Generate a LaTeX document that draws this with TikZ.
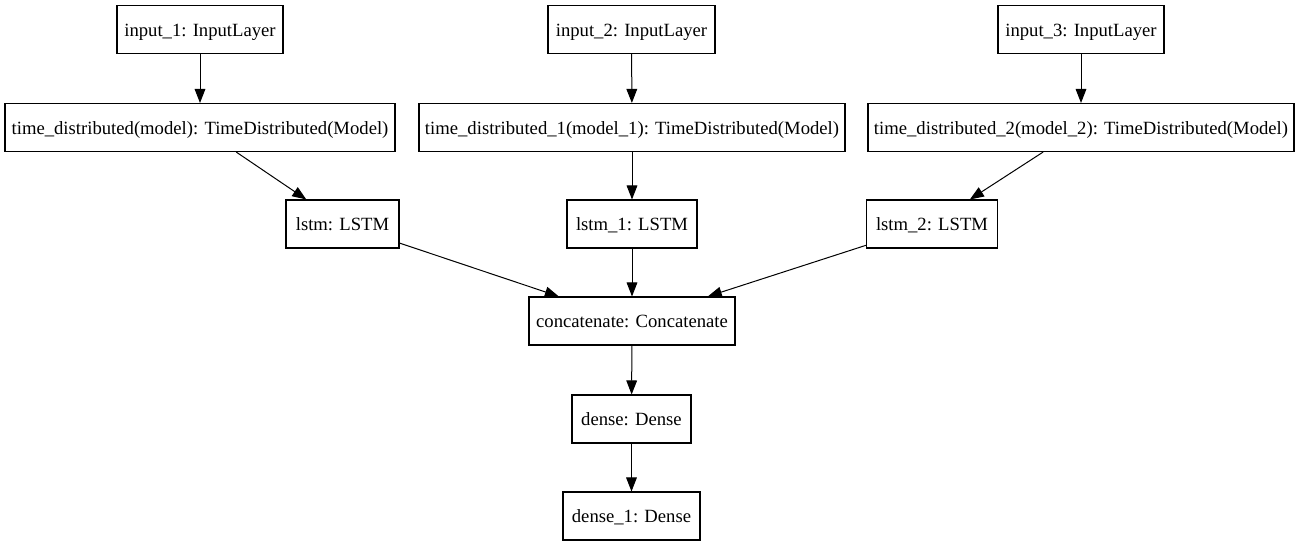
\documentclass[tikz,border=0pt]{standalone}
\usepackage{fontspec}
\setmainfont{Liberation Serif}
\usetikzlibrary{arrows.meta}

\begin{document}
\begin{tikzpicture}[
  x=0.75pt, y=-0.75pt,
  >={Triangle[length=10.5pt, width=8pt]},
  layer/.style={draw, line width=0.8pt, inner sep=1pt,
    text height=11.5pt, text depth=1.5pt,
    minimum height=48*0.75pt, font=\fontsize{14}{16}\selectfont},
  flow/.style={->, line width=0.75pt},
]

% ── Canvas (unit = 1 px) ──────────────────────────────────────────────────────
\useasboundingbox (0, 0) rectangle (1299, 547);

% ── Row heights ───────────────────────────────────────────────────────────────
\def\yin{29.5}     % input layers
\def\ytd{127.5}    % time distributed
\def\ylstm{224}    % lstm
\def\ycat{321}     % concatenate
\def\yden{419}     % dense
\def\ydenb{516}    % dense_1

% ── Branch 1 ──────────────────────────────────────────────────────────────────
\node[layer, minimum width=166*0.75pt] (in1) at (200, \yin) {input\_1: InputLayer};
\node[layer, minimum width=390*0.75pt] (td1) at (200, \ytd)
  {time\_distributed(model): TimeDistributed(Model)};
\node[layer, minimum width=113*0.75pt] (lstm1) at (342.5, \ylstm) {lstm: LSTM};

% ── Branch 2 ──────────────────────────────────────────────────────────────────
\node[layer, minimum width=167*0.75pt] (in2) at (631.5, \yin) {input\_2: InputLayer};
\node[layer, minimum width=426*0.75pt] (td2) at (632, \ytd)
  {time\_distributed\_1(model\_1): TimeDistributed(Model)};
\node[layer, minimum width=130*0.75pt] (lstm2) at (632, \ylstm) {lstm\_1: LSTM};

% ── Branch 3 ──────────────────────────────────────────────────────────────────
\node[layer, minimum width=166*0.75pt] (in3) at (1081, \yin) {input\_3: InputLayer};
\node[layer, minimum width=426*0.75pt] (td3) at (1081, \ytd)
  {time\_distributed\_2(model\_2): TimeDistributed(Model)};
\node[layer, minimum width=131*0.75pt] (lstm3) at (932, \ylstm) {lstm\_2: LSTM};

% ── Merge and head ────────────────────────────────────────────────────────────
\node[layer, minimum width=206*0.75pt] (cat) at (632, \ycat) {concatenate: Concatenate};
\node[layer, minimum width=119*0.75pt] (den) at (631.5, \yden) {dense: Dense};
\node[layer, minimum width=137*0.75pt] (denb) at (631.5, \ydenb) {dense\_1: Dense};

% ── Edges ─────────────────────────────────────────────────────────────────────
\draw[flow] (in1) -- (td1);
\draw[flow] (in2) -- (td2);
\draw[flow] (in3) -- (td3);
\draw[flow] (td1) -- (lstm1);
\draw[flow] (td2) -- (lstm2);
\draw[flow] (td3) -- (lstm3);
\draw[flow] (lstm1) -- (cat);
\draw[flow] (lstm2) -- (cat);
\draw[flow] (lstm3) -- (cat);
\draw[flow] (cat) -- (den);
\draw[flow] (den) -- (denb);

\end{tikzpicture}
\end{document}
